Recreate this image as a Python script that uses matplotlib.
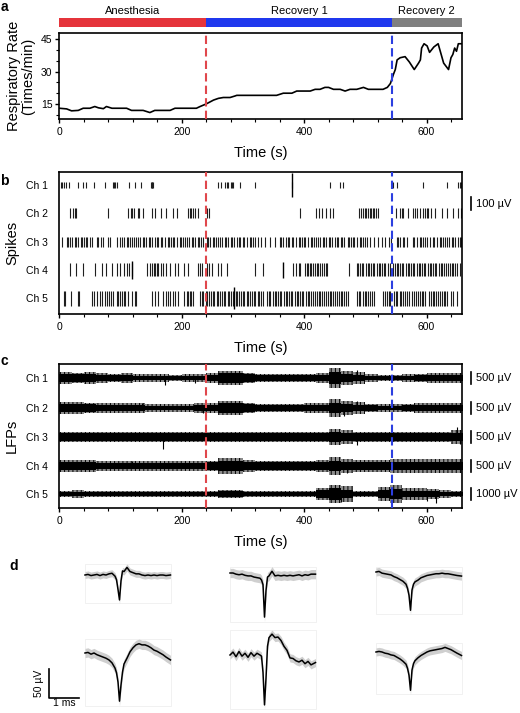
import numpy as np
import matplotlib.pyplot as plt
from matplotlib.ticker import MultipleLocator
from matplotlib.patches import Rectangle

plt.rcParams['font.family'] = ['Liberation Sans', 'DejaVu Sans']
plt.rcParams['hatch.linewidth'] = 0.7
plt.rcParams['hatch.color'] = 'black'

# ---- data -------------------------------------------------------------
phase_names = ["Anesthesia", "Recovery 1", "Recovery 2"]
phase_edges = [0, 240, 543, 658]
phase_colors = ["#e5343b", "#1f38ee", "#808080"]

resp_t = [0, 12, 20, 31, 39, 50, 58, 64, 72, 77, 86, 94, 110, 118, 137, 148, 156, 181, 189, 224,
          230, 240, 252, 260, 268, 279, 287, 290, 317, 355, 366, 380, 388, 410, 418, 426, 434, 440,
          448, 459, 467, 475, 486, 497, 505, 519, 529, 536, 541, 546, 549, 552, 557, 565, 572, 580,
          587, 590, 592, 596, 601, 605, 612, 619, 624, 628, 636, 640, 643, 646, 649, 652, 658]
resp_rate = [13.0, 12.7, 11.8, 12.0, 13.0, 13.0, 13.8, 13.2, 12.8, 13.8, 13.0, 13.0, 13.0, 12.0,
             12.0, 11.0, 12.0, 12.0, 13.0, 13.0, 13.8, 15.0, 16.8, 17.6, 18.0, 18.0, 18.7, 19.0,
             19.0, 19.0, 20.0, 20.0, 21.0, 21.0, 21.8, 21.8, 22.7, 22.7, 21.8, 21.8, 21.0, 21.8,
             21.8, 22.7, 21.8, 21.8, 21.8, 22.7, 24.5, 28.8, 31.0, 35.5, 36.5, 37.0, 34.5, 31.0,
             34.0, 35.5, 41.0, 43.0, 42.0, 39.0, 41.5, 43.0, 38.0, 34.0, 31.0, 36.5, 38.0, 41.0,
             39.5, 43.0, 43.0]

channels = ["Ch 1", "Ch 2", "Ch 3", "Ch 4", "Ch 5"]

# spike times (s) per channel
spk_ch1 = [3, 5, 7, 11, 16, 31, 38, 43, 57, 74, 88, 90, 91, 95, 114, 124, 134, 150, 151, 152, 153,
           260, 265, 270, 274, 276, 281, 282, 284, 295, 320, 381, 442, 458, 463, 546, 551, 595,
           633, 652, 654, 656]
spk_ch2 = [17, 23, 25, 28, 80, 112, 117, 119, 122, 128, 131, 136, 151, 157, 166, 175, 185, 193,
           211, 213, 215, 218, 221, 226, 241, 244, 393, 419, 425, 430, 436, 443, 448, 490, 493,
           496, 499, 501, 504, 507, 510, 512, 515, 518, 521, 550, 557, 560, 562, 570, 578, 581,
           584, 589, 595, 598, 600, 603, 607, 614, 625, 633, 644, 652, 656]
spk_ch3 = [4, 12, 15, 18, 20, 25, 28, 31, 35, 37, 40, 44, 46, 50, 53, 61, 63, 68, 72, 80, 83, 94,
           99, 103, 105, 110, 113, 116, 118, 122, 126, 128, 132, 137, 139, 142, 146, 148, 152, 157,
           159, 162, 166, 168, 172, 177, 179, 182, 186, 188, 192, 197, 199, 202, 206, 208, 212, 217,
           219, 222, 226, 228, 232, 235, 241, 243, 247, 251, 253, 256, 260, 262, 266, 271, 273, 276,
           280, 282, 286, 291, 293, 296, 300, 302, 306, 311, 313, 317, 320, 325, 330, 336, 344, 352,
           360, 362, 366, 371, 373, 376, 380, 382, 386, 391, 393, 396, 400, 402, 406, 411, 413, 416,
           420, 422, 426, 431, 433, 436, 440, 442, 446, 451, 453, 456, 460, 462, 466, 471, 473, 476,
           480, 482, 486, 491, 493, 496, 500, 503, 507, 515, 520, 527, 533, 538, 542, 551, 553, 557,
           561, 564, 568, 578, 580, 584, 589, 591, 594, 598, 601, 605, 611, 613, 617, 622, 624, 627,
           631, 634, 637, 642, 644, 647, 651, 654, 656]
spk_ch4 = [17, 28, 39, 58, 69, 77, 86, 95, 99, 105, 110, 114, 118, 143, 148, 151, 154, 156, 159,
           162, 166, 170, 175, 181, 189, 194, 203, 211, 227, 230, 233, 241, 245, 249, 260, 265, 274,
           320, 333, 382, 387, 392, 394, 401, 404, 407, 409, 412, 415, 418, 421, 423, 426, 429, 432,
           435, 437, 474, 486, 488, 492, 495, 497, 501, 504, 506, 510, 513, 515, 519, 522, 524, 528,
           531, 533, 537, 540, 545, 548, 551, 553, 557, 560, 562, 566, 569, 571, 575, 578, 580, 584,
           587, 589, 593, 596, 598, 602, 605, 607, 611, 614, 616, 620, 623, 626, 629, 632, 635, 638,
           641, 644, 647, 650, 654]
spk_ch5 = [7, 10, 19, 31, 32, 53, 57, 61, 66, 69, 74, 78, 81, 84, 88, 94, 96, 99, 102, 105, 108,
           113, 118, 123, 126, 151, 156, 162, 170, 175, 178, 181, 186, 189, 194, 203, 208, 211, 214,
           216, 219, 230, 233, 235, 239, 242, 244, 248, 251, 253, 257, 260, 262, 266, 269, 271, 275,
           278, 280, 284, 288, 291, 293, 297, 300, 302, 306, 309, 311, 315, 318, 320, 324, 327, 329,
           333, 340, 343, 345, 349, 352, 354, 358, 361, 363, 367, 370, 372, 376, 379, 381, 385, 388,
           390, 394, 397, 399, 403, 406, 408, 412, 415, 417, 421, 424, 426, 430, 433, 435, 439, 442,
           444, 448, 451, 453, 457, 460, 462, 466, 469, 472, 487, 490, 492, 496, 499, 501, 505, 508,
           511, 514, 529, 532, 535, 538, 541, 547, 550, 552, 556, 559, 562, 565, 568, 571, 577, 580,
           583, 586, 589, 592, 595, 598, 604, 607, 610, 613, 616, 619, 622, 625, 628, 631, 634, 640,
           643, 650]
spike_times = [spk_ch1, spk_ch2, spk_ch3, spk_ch4, spk_ch5]
spike_len = [50, 80, 75, 100, 110]  # µV
spike_tall = [(0, 381, 180), (3, 119, 140), (3, 365, 120), (4, 285, 170)]  # (channel, s, µV)

# LFP envelopes per 20 s bin (µV): dense core and outer excursions
lfp_core = [
    [150, 150, 150, 120, 120, 120, 90, 90, 90, 90, 90, 90, 120, 210, 210, 150, 120, 120, 120, 120,
     120, 120, 240, 180, 120, 90, 90, 90, 90, 120, 120, 120, 120],
    [150, 150, 150, 120, 120, 120, 120, 90, 90, 90, 90, 120, 120, 210, 210, 150, 120, 120, 120, 120,
     120, 120, 210, 180, 120, 120, 90, 90, 120, 120, 120, 120, 120],
    [150, 150, 150, 150, 150, 150, 150, 150, 150, 150, 150, 150, 150, 165, 165, 150, 150, 150, 150,
     150, 150, 150, 195, 165, 150, 150, 150, 150, 150, 150, 150, 150, 165],
    [165, 165, 165, 135, 135, 135, 135, 135, 135, 135, 135, 135, 150, 225, 225, 165, 150, 150, 150,
     150, 150, 150, 225, 180, 165, 165, 165, 180, 180, 180, 180, 180, 180],
    [180, 180, 180, 180, 180, 180, 180, 180, 180, 180, 180, 180, 180, 240, 240, 180, 180, 180, 180,
     180, 180, 300, 480, 360, 180, 180, 360, 420, 240, 240, 240, 180, 180],
]
lfp_peak = [
    [240, 220, 240, 200, 180, 200, 160, 160, 160, 140, 160, 160, 200, 280, 280, 200, 180, 180, 180,
     160, 180, 200, 400, 280, 240, 160, 140, 140, 160, 180, 200, 200, 220],
    [240, 240, 220, 200, 200, 200, 200, 160, 160, 160, 160, 200, 200, 280, 280, 200, 180, 180, 180,
     180, 200, 200, 360, 280, 240, 180, 160, 160, 180, 200, 200, 200, 200],
    [220, 220, 200, 200, 200, 200, 200, 200, 200, 200, 200, 200, 200, 220, 220, 200, 200, 200, 200,
     200, 200, 220, 320, 280, 220, 200, 200, 200, 200, 200, 200, 220, 300],
    [260, 260, 240, 200, 200, 200, 200, 200, 200, 200, 200, 200, 220, 320, 320, 240, 220, 220, 220,
     220, 220, 240, 360, 300, 260, 260, 260, 280, 280, 280, 280, 280, 280],
    [280, 320, 280, 280, 240, 240, 240, 240, 240, 240, 240, 240, 240, 320, 320, 240, 240, 240, 240,
     240, 240, 480, 720, 640, 280, 280, 560, 720, 480, 480, 400, 320, 280],
]
lfp_events = [(0, 173, -300), (0, 222, -220), (0, 486, 340), (1, 135, 200), (1, 235, -200),
              (1, 466, -320), (1, 486, 300), (2, 170, -520), (2, 486, -320), (2, 650, 400),
              (2, 655, -300), (3, 118, 200), (3, 470, -300), (4, 460, -700), (4, 600, -560),
              (4, 615, -720)]
lfp_bars = ["500 µV", "500 µV", "500 µV", "500 µV", "1000 µV"]
lfp_gain = [1, 1, 1, 1, 0.5]

# average spike waveforms (ms, µV)
wave_t = [0.0, 0.1, 0.2, 0.3, 0.4, 0.5, 0.6, 0.7, 0.8, 0.9, 1.0, 1.05, 1.1, 1.15, 1.2, 1.25, 1.3,
          1.4, 1.5, 1.6, 1.7, 1.8, 1.9, 2.0, 2.1, 2.2, 2.3, 2.4, 2.5, 2.6, 2.7, 2.85]
wave1 = [0, 1, -1, 0, 1, -1, 1, 0, 2, 3, -2, -8, -25, -43, -10, 7, 6, 13, 6, 4, 2, 2, 0, -1, 0, -1,
         0, -1, 0, 0, -1, 0]
wave2 = [0, 0, -2, -3, -2, -4, -5, -5, -7, -8, -9, -12, -20, -76, -30, -7, -5, 3, -5, -4, -5, -4,
         -5, -4, -5, -4, -3, -5, -3, -4, -2, -2]
wave3 = [0, 1, -2, -3, -4, -5, -8, -10, -13, -16, -21, -28, -40, -66, -31, -21, -17, -14, -10, -8,
         -6, -5, -4, -3, -3, -2, -3, -3, -4, -5, -6, -7]
wave4 = [0, 1, -2, 0, -3, -5, -7, -9, -12, -17, -26, -34, -50, -83, -55, -33, -19, -9, 2, 9, 14,
         16, 14, 14, 12, 9, 5, 3, 0, -3, -7, -12]
wave5 = [0, 5, -3, 6, -2, 3, -4, 4, -2, 3, 0, -2, -30, -86, -40, 15, 30, 36, 30, 31, 25, 15, 8, -5,
         -6, -10, -12, -9, -15, -11, -17, -13]
wave6 = [0, 1, 0, -2, -3, -5, -6, -9, -12, -16, -21, -28, -40, -66, -31, -20, -15, -10, -6, -3, 0,
         2, 3, 4, 5, 6, 8, 6, 4, 1, -2, -6]
waves = [wave1, wave2, wave3, wave4, wave5, wave6]
wave_sd = [6, 8, 7, 8, 7, 7]

# ---- layout helpers (pixels) ------------------------------------------
W, H = 520, 713
fig = plt.figure(figsize=(W / 100, H / 100), dpi=100)


def box(l, t, r, b):
    return [l / W, 1 - b / H, (r - l) / W, (b - t) / H]


XL, XR, TMAX = 59.3, 462, 658
FS_TICK, FS_LAB = 7.5, 10.5
red, blue = "#e0474c", "#2c3fe0"


def time_axis(ax):
    ax.set_xlim(0, TMAX)
    ax.xaxis.set_major_locator(MultipleLocator(200))
    ax.xaxis.set_minor_locator(MultipleLocator(40))
    ax.tick_params(axis='x', which='major', length=3, width=1, labelsize=FS_TICK, pad=3)
    ax.tick_params(axis='x', which='minor', length=2, width=0.8)
    for s in ax.spines.values():
        s.set_linewidth(1.2)
    ax.axvline(phase_edges[1], color=red, lw=1.5, ls=(0, (4, 2)), zorder=5)
    ax.axvline(phase_edges[2], color=blue, lw=1.5, ls=(0, (4, 2)), zorder=5)
    ax.set_xlabel("Time (s)", fontsize=FS_LAB, labelpad=6)


# ---- a ----------------------------------------------------------------
ax_bar = fig.add_axes(box(XL, 18, XR, 27))
for i in range(3):
    ax_bar.axvspan(phase_edges[i], phase_edges[i + 1], color=phase_colors[i], lw=0)
    ax_bar.annotate(phase_names[i], ((phase_edges[i] + phase_edges[i + 1]) / 2, 1),
                    xytext=(0, 1.5), textcoords='offset points', ha='center', va='bottom',
                    fontsize=8)
ax_bar.set_xlim(0, TMAX)
ax_bar.set_ylim(0, 1)
ax_bar.axis('off')

ax_a = fig.add_axes(box(XL, 33, XR, 119))
ax_a.plot(resp_t, resp_rate, color='black', lw=1.2)
ax_a.set_ylim(8, 48)
ax_a.set_yticks([15, 30, 45])
ax_a.yaxis.set_minor_locator(MultipleLocator(5))
ax_a.tick_params(axis='y', which='major', length=3, width=1, labelsize=FS_TICK, pad=2)
ax_a.tick_params(axis='y', which='minor', length=2, width=0.8)
time_axis(ax_a)
ax_a.set_ylabel("Respiratory Rate\n(Times/min)", fontsize=FS_LAB, linespacing=1.05, va='center')
ax_a.yaxis.set_label_coords(-0.095, 0.5)

# ---- b ----------------------------------------------------------------
ax_b = fig.add_axes(box(XL, 172, XR, 314))
b_off = [990, 775, 555, 340, 120]
for i, times in enumerate(spike_times):
    h = spike_len[i] / 2
    ax_b.vlines(times, b_off[i] - h, b_off[i] + h, color='0.12', lw=0.8)
for ch, t, h in spike_tall:
    ax_b.vlines(t, b_off[ch] - h / 2, b_off[ch] + h / 2, color='black', lw=1.0)
ax_b.set_ylim(0, 1090)
ax_b.set_yticks(b_off)
ax_b.set_yticklabels(channels, fontsize=FS_TICK)
ax_b.tick_params(axis='y', length=0, pad=8)
time_axis(ax_b)
ax_b.set_ylabel("Spikes", fontsize=FS_LAB, va='center')
ax_b.yaxis.set_label_coords(-0.117, 0.5)
sx = (471 - XL) / (XR - XL) * TMAX
ax_b.plot([sx, sx], [795, 895], color='black', lw=1.2, clip_on=False)
ax_b.text(sx + 8, 845, "100 µV", fontsize=8, va='center', ha='left')

# ---- c ----------------------------------------------------------------
ax_c = fig.add_axes(box(XL, 364, XR, 508))
c_off = [5420, 4170, 2960, 1750, 580]
edges = np.arange(0, 661, 20)
for i in range(5):
    g = lfp_gain[i]
    core = np.append(lfp_core[i], lfp_core[i][-1]) * g
    peak = np.append(lfp_peak[i], lfp_peak[i][-1]) * g
    ax_c.fill_between(edges, c_off[i] - peak, c_off[i] + peak, step='post',
                      facecolor='0.55', edgecolor='black', hatch='||||', lw=0)
    ax_c.fill_between(edges, c_off[i] - core, c_off[i] + core, step='post',
                      color='black', lw=0)
    ax_c.text(sx + 8, c_off[i], lfp_bars[i], fontsize=8, va='center', ha='left')
    ax_c.plot([sx, sx], [c_off[i] - 250, c_off[i] + 250], color='black', lw=1.2, clip_on=False)
for ch, t, a in lfp_events:
    ax_c.vlines(t, c_off[ch], c_off[ch] + a * lfp_gain[ch], color='black', lw=0.8)
ax_c.set_ylim(0, 6000)
ax_c.set_yticks(c_off)
ax_c.set_yticklabels(channels, fontsize=FS_TICK)
ax_c.tick_params(axis='y', length=0, pad=8)
time_axis(ax_c)
ax_c.set_ylabel("LFPs", fontsize=FS_LAB, va='center')
ax_c.yaxis.set_label_coords(-0.117, 0.5)

# ---- d ----------------------------------------------------------------
ax_d = fig.add_axes(box(0, 545, W, H))
px_ms, px_uv = 30.0, 29.0 / 50.0
ax_d.set_xlim(0, W / px_ms)
ax_d.set_ylim(0, (H - 545) / px_uv)
ax_d.axis('off')
starts = [(85, 575), (230, 573), (376, 572), (85, 653), (230, 655), (376, 652)]
for k, w in enumerate(waves):
    x0 = starts[k][0] / px_ms
    y0 = (H - starts[k][1]) / px_uv
    t = x0 + np.array(wave_t)
    m = y0 + np.array(w, dtype=float)
    lo, hi = m - wave_sd[k], m + wave_sd[k]
    ax_d.add_patch(Rectangle((t[0], lo.min()), t[-1] - t[0], hi.max() - lo.min(),
                             fill=False, edgecolor='#efefef', lw=0.6))
    ax_d.fill_between(t, lo, hi, color='#cfcfcf', lw=0)
    ax_d.plot(t, m, color='black', lw=1.1)
bx, by = 49 / px_ms, (H - 698) / px_uv
ax_d.plot([bx, bx, bx + 1], [by + 50, by, by], color='black', lw=1.2)
ax_d.text(bx - 0.33, by + 25, "50 µV", rotation=90, ha='center', va='center', fontsize=7.5)
ax_d.text(bx + 0.5, by - 9, "1 ms", ha='center', va='center', fontsize=7.5)

# panel letters
for lab, (x, y) in zip("abcd", [(4, 7), (4, 181), (4, 361), (14, 566)]):
    fig.text(x / W, 1 - y / H, lab, fontsize=10, fontweight='bold', ha='center', va='center')

fig.savefig("out.png", dpi=100)
